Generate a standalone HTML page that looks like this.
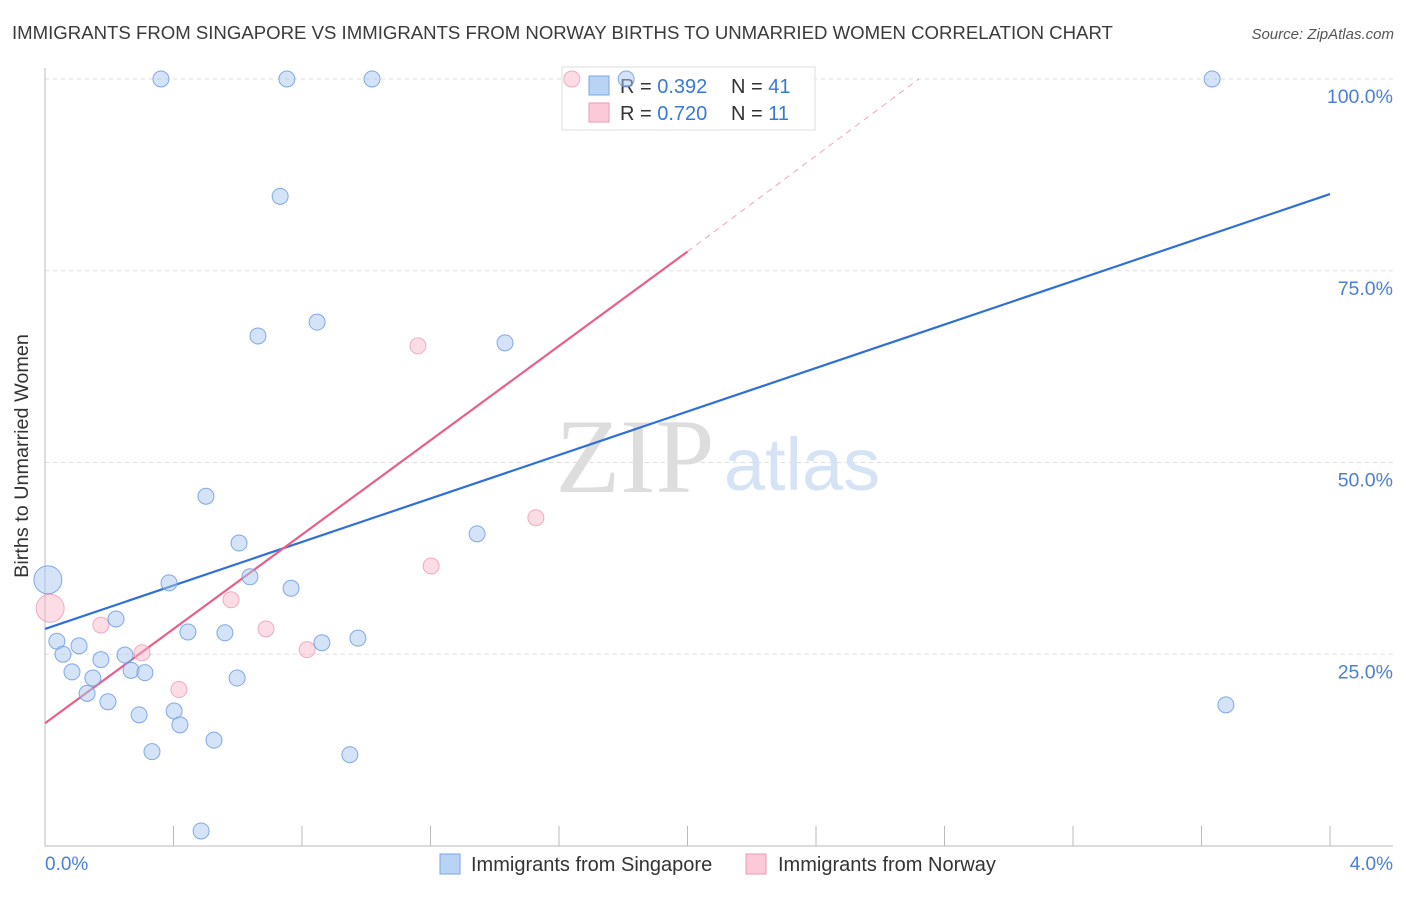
<!DOCTYPE html>
<html><head><meta charset="utf-8">
<style>
body{margin:0;background:#fff;font-family:"Liberation Sans",sans-serif;}
svg text{font-family:"Liberation Sans",sans-serif;}
</style></head>
<body>
<svg id="chart" width="1406" height="892" viewBox="0 0 1406 892" xmlns="http://www.w3.org/2000/svg">
<text x="12" y="39" font-size="18.6" fill="#3a3a3a">IMMIGRANTS FROM SINGAPORE VS IMMIGRANTS FROM NORWAY BIRTHS TO UNMARRIED WOMEN CORRELATION CHART</text>
<text x="1394" y="39" font-size="15" fill="#555" text-anchor="end" font-style="italic">Source: ZipAtlas.com</text>
<g id="grid"></g>
<text x="635" y="492" font-size="106" fill="#ddd" text-anchor="middle" style="font-family:'Liberation Serif',serif">ZIP</text>
<text x="802" y="490" font-size="74" fill="#d5e3f5" text-anchor="middle">atlas</text>
<line x1="45" y1="68" x2="45" y2="846" stroke="#bbb"/>
<line x1="45" y1="846" x2="1393" y2="846" stroke="#bbb"/>
<g id="ticks"></g>
<g>
<rect x="562" y="67" width="253" height="63" fill="#fff" stroke="#ddd"/>
<rect x="589" y="76" width="20" height="19" fill="#b9d3f5" stroke="#7aa6e6"/>
<rect x="589" y="103" width="20" height="19" fill="#fbc9d8" stroke="#ec9ab3"/>
<text x="620" y="93" font-size="20" fill="#333">R = <tspan fill="#3a78d8">0.392</tspan></text>
<text x="731" y="93" font-size="20" fill="#333">N = <tspan fill="#3a78d8">41</tspan></text>
<text x="620" y="120" font-size="20" fill="#333">R = <tspan fill="#3a78d8">0.720</tspan></text>
<text x="731" y="120" font-size="20" fill="#333">N = <tspan fill="#3a78d8"> 11</tspan></text>
</g>
<g id="lines"></g>
<g id="points"></g>
<text x="28" y="456" font-size="19.8" fill="#333" text-anchor="middle" transform="rotate(-90 28 456)">Births to Unmarried Women</text>
<text x="45" y="870" font-size="19" fill="#4a7fd4">0.0%</text>
<text x="1393" y="870" font-size="19" fill="#4a7fd4" text-anchor="end">4.0%</text>
<g>
<rect x="440" y="854" width="20" height="20" fill="#b9d3f5" stroke="#7aa6e6"/>
<text x="471" y="871" font-size="20" fill="#333">Immigrants from Singapore</text>
<rect x="746" y="854" width="20" height="20" fill="#fbc9d8" stroke="#ec9ab3"/>
<text x="778" y="871" font-size="20" fill="#333">Immigrants from Norway</text>
</g>
</svg>
<script>
const yTicks=[25,50,75,100];
const xTickVals=[0.4,0.8,1.2,1.6,2.0,2.4,2.8,3.2,3.6,4.0];
const blueX=[0.361,0.753,1.018,1.809,3.633,0.732,0.663,0.847,1.432,0.501,0.604,1.345,0.386,0.638,0.766,0.221,0.445,0.560,0.862,0.974,0.037,0.106,0.056,0.174,0.249,0.084,0.149,0.268,0.311,0.598,0.131,0.196,0.293,0.402,0.420,0.526,0.333,0.949,0.486,3.676,0.009];
const blueY=[100,100,100,100,100,84.7,66.5,68.3,65.6,45.6,39.5,40.7,34.3,35.1,33.6,29.6,27.9,27.8,26.5,27.1,26.7,26.1,25.0,24.3,24.9,22.7,21.9,22.9,22.6,21.9,19.9,18.8,17.1,17.6,15.8,13.8,12.3,11.9,1.96,18.4,34.7];
const blueBig=[40];
const pinkX=[1.640,1.161,1.528,1.202,0.579,0.174,0.688,0.302,0.816,0.417,0.016];
const pinkY=[100,65.2,42.8,36.5,32.1,28.8,28.3,25.2,25.6,20.4,31.0];
const pinkBig=[10];
const blueLine=[[0,28.3],[4,85.0]];
const pinkLine=[[0,16.0],[2,77.5]];
const pinkDash=[[2,77.5],[2.72,100]];
const X=v=>45+v*321.25, Y=v=>846-v*7.67;
const NS="http://www.w3.org/2000/svg";
function mk(p,t,a){const e=document.createElementNS(NS,t);for(const k in a)e.setAttribute(k,a[k]);p.appendChild(e);return e;}
const grid=document.getElementById('grid');
yTicks.forEach(t=>{
 const l=mk(grid,'line',{x1:45,x2:1393,y1:Y(t),y2:Y(t),stroke:'#ddd','stroke-dasharray':'4,4'});
 
 
 const tx=mk(grid,'text',{x:1393,y:Y(t)+24,'font-size':19.5,fill:'#4a7fd4','text-anchor':'end'});
 tx.textContent=t.toFixed(1)+'%';
 
 
});
const ticks=document.getElementById('ticks');
xTickVals.forEach(t=>{
 const l=mk(ticks,'line',{x1:X(t),x2:X(t),y1:826,y2:846,stroke:'#bbb'});
 
 
});
const lines=document.getElementById('lines');
let l=mk(lines,'line',{x1:X(blueLine[0][0]),y1:Y(blueLine[0][1]),x2:X(blueLine[1][0]),y2:Y(blueLine[1][1]),stroke:'#2f6fd6','stroke-width':2.2});


l=mk(lines,'line',{x1:X(pinkLine[0][0]),y1:Y(pinkLine[0][1]),x2:X(pinkLine[1][0]),y2:Y(pinkLine[1][1]),stroke:'#e8608a','stroke-width':2.2});


l=mk(lines,'line',{x1:X(pinkDash[0][0]),y1:Y(pinkDash[0][1]),x2:X(pinkDash[1][0]),y2:Y(pinkDash[1][1]),stroke:'#f0a5bc','stroke-width':1,'stroke-dasharray':'6,5'});


const pts=document.getElementById('points');
pinkX.forEach((x,i)=>{
 const c=mk(pts,'circle',{cx:X(x),cy:Y(pinkY[i]),r:pinkBig.includes(i)?14:8,fill:'rgba(248,180,200,0.45)',stroke:'rgba(236,154,179,0.8)','stroke-width':1});
 
 
});
blueX.forEach((x,i)=>{
 const c=mk(pts,'circle',{cx:X(x),cy:Y(blueY[i]),r:blueBig.includes(i)?14:8,fill:'rgba(170,200,240,0.5)',stroke:'rgba(111,155,224,0.85)','stroke-width':1});
 
 
});
</script>
</body></html>
